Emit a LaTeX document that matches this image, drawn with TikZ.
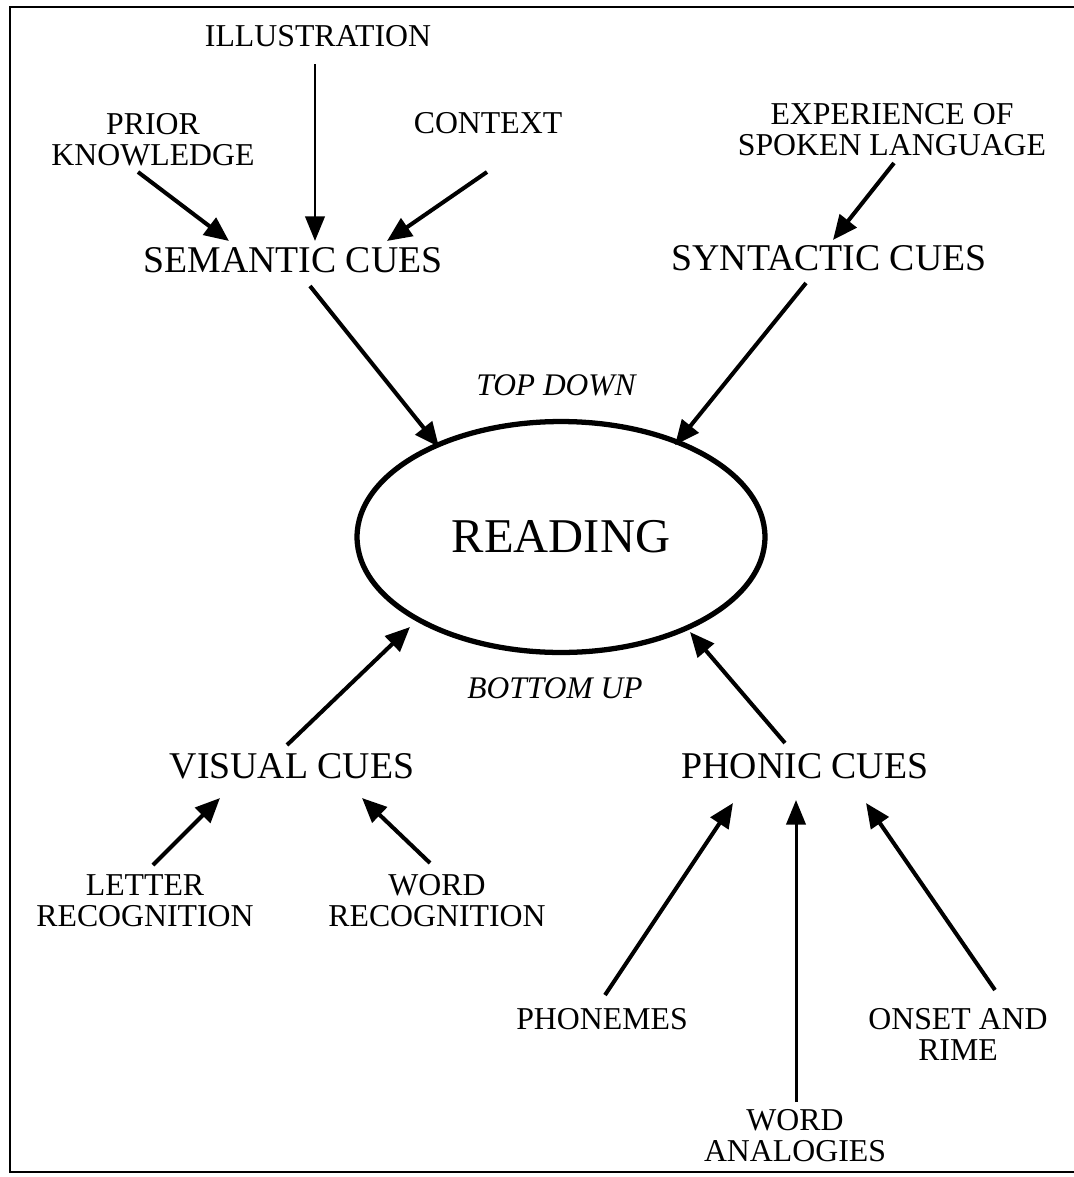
\documentclass[tikz,border=0pt]{standalone}
\usepackage{fontspec}
\setmainfont{Liberation Serif}
\usetikzlibrary{arrows.meta,shapes.geometric}
\begin{document}
\begin{tikzpicture}[x=0.02cm,y=-0.02cm,
  lbl/.style={inner sep=0pt, align=center, font=\fontsize{18.1}{17.6}\selectfont},
  cue/.style={inner sep=0pt, font=\fontsize{21.5}{24}\selectfont},
  dirlabel/.style={inner sep=0pt, font=\fontsize{17.9}{20}\selectfont\itshape},
  arr/.style={line width=2.3pt, -{Triangle[length=14pt,width=12pt]}},
  thinarr/.style={line width=1.7pt, -{Triangle[length=14pt,width=11pt]}},
]
\useasboundingbox (0,0) rectangle (1074,1177);
% open frame
\draw[line width=1.1pt] (1074,7) -- (10,7) -- (10,1172) -- (1074,1172);

% sources of the top-down cues
\node[lbl] (illus) at (318,36) {ILLUSTRATION};
\node[lbl] (prior) at (153,140) {PRIOR\\KNOWLEDGE};
\node[lbl] (context) at (488,123) {CONTEXT};
\node[lbl] (exper) at (892,130) {EXPERIENCE OF\\SPOKEN LANGUAGE};

% cue groups
\node[cue] (sem) at (293,260) {SEMANTIC CUES};
\node[cue] (syn) at (829,258) {SYNTACTIC CUES};
\node[cue] (vis) at (292,766) {VISUAL CUES};
\node[cue] (phon) at (805,766) {PHONIC CUES};

% centre
\node[ellipse, draw, line width=3pt, minimum width=8.16cm, minimum height=4.62cm,
      inner sep=0pt, font=\fontsize{27.6}{30}\selectfont] (read) at (561,537) {READING};
\node[dirlabel] (top) at (556,385) {TOP DOWN};
\node[dirlabel] (bottom) at (555,688) {BOTTOM UP};

% sources of the bottom-up cues
\node[lbl] (letter) at (145,901) {LETTER\\RECOGNITION};
\node[lbl] (wordrec) at (437,901) {WORD\\RECOGNITION};
\node[lbl] (phonemes) at (602,1019) {PHONEMES};
\node[lbl] (onset) at (958,1034) {ONSET AND\\RIME};
\node[lbl] (analog) at (795,1136) {WORD\\ANALOGIES};

% top-down arrows
\draw[thinarr] ([shift={(-3,28)}]illus.center) -- ([shift={(22,-19)}]sem.center);
\draw[arr] ([shift={(-15,32)}]prior.center) -- ([shift={(-64,-19)}]sem.center);
\draw[arr] ([shift={(-1,49)}]context.center) -- ([shift={(94,-19)}]sem.center);
\draw[arr] ([shift={(2,33)}]exper.center) -- ([shift={(4,-18)}]syn.center);
\draw[arr] ([shift={(17,26)}]sem.center) -- ([shift={(-122,-90)}]read.center);
\draw[arr] ([shift={(-23,25)}]syn.center) -- ([shift={(114,-92)}]read.center);

% bottom-up arrows
\draw[arr] ([shift={(-5,-21)}]vis.center) -- ([shift={(-151,90)}]read.center);
\draw[arr] ([shift={(-20,-23)}]phon.center) -- ([shift={(129,95)}]read.center);
\draw[arr] ([shift={(8,-36)}]letter.center) -- ([shift={(-72,32)}]vis.center);
\draw[arr] ([shift={(-7,-38)}]wordrec.center) -- ([shift={(70,32)}]vis.center);
\draw[arr] ([shift={(3,-24)}]phonemes.center) -- ([shift={(-72,37)}]phon.center);
\draw[thinarr] ([shift={(1,-34)}]analog.center) -- ([shift={(-9,34)}]phon.center);
\draw[arr] ([shift={(37,-44)}]onset.center) -- ([shift={(61,37)}]phon.center);
\end{tikzpicture}
\end{document}
